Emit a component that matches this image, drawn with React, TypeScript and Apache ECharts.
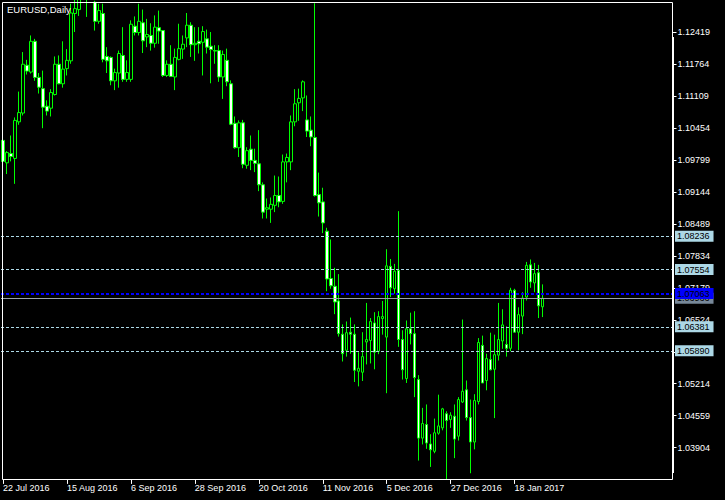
import React, { useEffect, useRef } from 'react';
import * as echarts from 'echarts';

// EURUSD daily bars, first bar on 22 Jul 2016 (weekdays only)
const firstDay = '2016-07-22';

const opens = [
  1.1020, 1.0974, 1.0993, 1.0983, 1.1058, 1.1076, 1.1174, 1.1160, 1.1223, 1.1149,
  1.1126, 1.1090, 1.1086, 1.1114, 1.1176, 1.1136, 1.1167, 1.1183, 1.1280, 1.1288,
  1.1352, 1.1325, 1.1320, 1.1303, 1.1264, 1.1280, 1.1192, 1.1190, 1.1142, 1.1158,
  1.1194, 1.1145, 1.1145, 1.1254, 1.1241, 1.1261, 1.1232, 1.1235, 1.1219, 1.1251,
  1.1245, 1.1153, 1.1176, 1.1150, 1.1186, 1.1207, 1.1230, 1.1256, 1.1216, 1.1223,
  1.1221, 1.1228, 1.1213, 1.1204, 1.1204, 1.1150, 1.1184, 1.1136, 1.1055, 1.1005,
  1.1056, 1.0969, 1.1002, 1.0979, 1.0972, 1.0929, 1.0879, 1.0879, 1.0887, 1.0907,
  1.0895, 1.0976, 1.0976, 1.1058, 1.1097, 1.1107, 1.1062, 1.1041, 1.1026, 1.0909,
  1.0894, 1.0834, 1.0737, 1.0721, 1.0691, 1.0623, 1.0590, 1.0627, 1.0623, 1.0547,
  1.0545, 1.0607, 1.0610, 1.0646, 1.0588, 1.0655, 1.0617, 1.0762, 1.0716, 1.0754,
  1.0612, 1.0532, 1.0634, 1.0624, 1.0530, 1.0410, 1.0438, 1.0398, 1.0383, 1.0420,
  1.0431, 1.0460, 1.0448, 1.0455, 1.0414, 1.0484, 1.0509, 1.0452, 1.0402, 1.0485,
  1.0600, 1.0528, 1.0571, 1.0551, 1.0580, 1.0609, 1.0602, 1.0594, 1.0713, 1.0627,
  1.0660, 1.0699, 1.0765, 1.0728, 1.0749, 1.0679,
];

const highs = [
  1.1025, 1.0998, 1.1030, 1.1067, 1.1120, 1.1201, 1.1185, 1.1235, 1.1228, 1.1158,
  1.1163, 1.1102, 1.1125, 1.1192, 1.1194, 1.1223, 1.1207, 1.1300, 1.1315, 1.1366,
  1.1368, 1.1340, 1.1342, 1.1306, 1.1300, 1.1300, 1.1211, 1.1192, 1.1167, 1.1204,
  1.1252, 1.1184, 1.1266, 1.1274, 1.1300, 1.1288, 1.1269, 1.1260, 1.1276, 1.1286,
  1.1245, 1.1184, 1.1215, 1.1208, 1.1259, 1.1235, 1.1281, 1.1262, 1.1252, 1.1252,
  1.1254, 1.1247, 1.1242, 1.1215, 1.1215, 1.1204, 1.1208, 1.1143, 1.1069, 1.1061,
  1.1062, 1.1006, 1.1030, 1.1003, 1.1041, 1.0934, 1.0901, 1.0903, 1.0948, 1.0946,
  1.0991, 1.0993, 1.1071, 1.1125, 1.1126, 1.1143, 1.1112, 1.1069, 1.1301, 1.0954,
  1.0923, 1.0841, 1.0817, 1.0759, 1.0746, 1.0643, 1.0649, 1.0657, 1.0643, 1.0586,
  1.0627, 1.0687, 1.0656, 1.0668, 1.0670, 1.0691, 1.0797, 1.0777, 1.0767, 1.0875,
  1.0631, 1.0651, 1.0667, 1.0670, 1.0539, 1.0472, 1.0479, 1.0418, 1.0450, 1.0499,
  1.0472, 1.0465, 1.0463, 1.0479, 1.0494, 1.0653, 1.0528, 1.0489, 1.0500, 1.0615,
  1.0620, 1.0583, 1.0626, 1.0622, 1.0687, 1.0674, 1.0639, 1.0718, 1.0716, 1.0678,
  1.0709, 1.0771, 1.0776, 1.0769, 1.0765, 1.0725,
];

const lows = [
  1.0974, 1.0951, 1.0977, 1.0931, 1.1052, 1.1071, 1.1155, 1.1157, 1.1142, 1.1116,
  1.1045, 1.1071, 1.1069, 1.1112, 1.1135, 1.1128, 1.1153, 1.1177, 1.1242, 1.1275,
  1.1310, 1.1273, 1.1304, 1.1245, 1.1259, 1.1180, 1.1158, 1.1133, 1.1123, 1.1128,
  1.1140, 1.1140, 1.1140, 1.1235, 1.1235, 1.1199, 1.1211, 1.1204, 1.1210, 1.1218,
  1.1150, 1.1150, 1.1150, 1.1123, 1.1184, 1.1187, 1.1211, 1.1191, 1.1183, 1.1198,
  1.1153, 1.1198, 1.1137, 1.1177, 1.1140, 1.1105, 1.1131, 1.1051, 1.1003, 1.0986,
  1.0963, 1.0962, 1.0959, 1.0955, 1.0916, 1.0860, 1.0860, 1.0851, 1.0873, 1.0883,
  1.0890, 1.0934, 1.0959, 1.1049, 1.1060, 1.1080, 1.1027, 1.1008, 1.0905, 1.0864,
  1.0830, 1.0711, 1.0716, 1.0664, 1.0618, 1.0567, 1.0577, 1.0583, 1.0525, 1.0516,
  1.0527, 1.0561, 1.0563, 1.0551, 1.0582, 1.0622, 1.0502, 1.0699, 1.0706, 1.0597,
  1.0530, 1.0523, 1.0602, 1.0494, 1.0364, 1.0397, 1.0388, 1.0351, 1.0379, 1.0417,
  1.0426, 1.0326, 1.0431, 1.0369, 1.0405, 1.0482, 1.0446, 1.0338, 1.0387, 1.0479,
  1.0523, 1.0508, 1.0549, 1.0451, 1.0569, 1.0593, 1.0577, 1.0588, 1.0627, 1.0590,
  1.0623, 1.0692, 1.0718, 1.0709, 1.0656, 1.0658,
];

const closes = [
  1.0977, 1.0995, 1.0987, 1.1061, 1.1077, 1.1176, 1.1162, 1.1223, 1.1149, 1.1129,
  1.1088, 1.1080, 1.1118, 1.1176, 1.1136, 1.1166, 1.1184, 1.1281, 1.1290, 1.1352,
  1.1325, 1.1320, 1.1305, 1.1264, 1.1286, 1.1186, 1.1183, 1.1142, 1.1159, 1.1198,
  1.1145, 1.1159, 1.1258, 1.1241, 1.1264, 1.1224, 1.1237, 1.1219, 1.1252, 1.1244,
  1.1153, 1.1176, 1.1151, 1.1190, 1.1208, 1.1217, 1.1256, 1.1216, 1.1219, 1.1218,
  1.1243, 1.1211, 1.1206, 1.1203, 1.1150, 1.1196, 1.1140, 1.1053, 1.1005, 1.1056,
  1.0971, 1.0999, 1.0979, 1.0973, 1.0929, 1.0873, 1.0882, 1.0889, 1.0907, 1.0894,
  1.0976, 1.0985, 1.1058, 1.1095, 1.1106, 1.1140, 1.1039, 1.1027, 1.0907, 1.0892,
  1.0851, 1.0736, 1.0722, 1.0689, 1.0624, 1.0583, 1.0626, 1.0623, 1.0549, 1.0553,
  1.0577, 1.0612, 1.0649, 1.0586, 1.0659, 1.0659, 1.0763, 1.0718, 1.0752, 1.0612,
  1.0550, 1.0634, 1.0624, 1.0534, 1.0410, 1.0440, 1.0400, 1.0386, 1.0421, 1.0435,
  1.0470, 1.0446, 1.0457, 1.0408, 1.0489, 1.0506, 1.0452, 1.0402, 1.0487, 1.0606,
  1.0523, 1.0573, 1.0550, 1.0581, 1.0612, 1.0642, 1.0594, 1.0713, 1.0627, 1.0663,
  1.0697, 1.0764, 1.0730, 1.0747, 1.0681, 1.06966,
];

// Price scale labels on the right-hand axis
const priceTicks = [
  1.03904, 1.04559, 1.05214, 1.05869, 1.06524, 1.07179, 1.07834,
  1.08489, 1.09144, 1.09799, 1.10454, 1.11109, 1.11764, 1.12419,
];

// Horizontal support / resistance levels (dashed light blue) and the pivot (blue)
const levelLines = [1.08236, 1.07554, 1.06381, 1.05890];
const pivotLine = 1.07063;

// Total bar slots on the time axis, including the empty space to the right
const slotCount = 168;
const dateLabelStep = 16;

const MONTHS = ['Jan', 'Feb', 'Mar', 'Apr', 'May', 'Jun', 'Jul', 'Aug', 'Sep', 'Oct', 'Nov', 'Dec'];

function weekdays(start: string, count: number): string[] {
  const d = new Date(start + 'T00:00:00Z');
  const out: string[] = [];
  while (out.length < count) {
    const wd = d.getUTCDay();
    if (wd !== 0 && wd !== 6) {
      out.push(`${d.getUTCDate()} ${MONTHS[d.getUTCMonth()]} ${d.getUTCFullYear()}`);
    }
    d.setUTCDate(d.getUTCDate() + 1);
  }
  return out;
}

const FONT = "'Liberation Sans', Arial, sans-serif";

export default function App() {
  const ref = useRef<HTMLDivElement>(null);

  useEffect(() => {
    if (!ref.current) return;
    const chart = echarts.init(ref.current, null, { renderer: 'svg' });

    const categories = weekdays(firstDay, slotCount);
    const barCount = closes.length;
    const candles = opens.map((o, i) => [o, closes[i], lows[i], highs[i]]);
    const bid = closes[barCount - 1];

    const showDate = (index: number) => index % dateLabelStep === 0 && index < barCount;

    const boxLabel = (bg: string) => ({
      show: true,
      position: 'end',
      distance: 2.5,
      formatter: (p: any) => Number(p.value).toFixed(5),
      color: '#000',
      backgroundColor: bg,
      fontFamily: FONT,
      fontSize: 9,
      lineHeight: 10,
      padding: [1, 4, 0, 2],
    });

    const dashed = (color: string) => ({ color, type: [3, 2], width: 1, opacity: 1 });

    chart.setOption({
      animation: false,
      backgroundColor: '#000',
      grid: { left: 0.5, top: 2.9, width: 672, height: 477, containLabel: false },
      xAxis: {
        type: 'category',
        data: categories,
        boundaryGap: true,
        axisLine: { show: false },
        axisTick: {
          show: true,
          alignWithLabel: true,
          interval: (index: number) => showDate(index),
          length: 4,
          lineStyle: { color: '#fff', width: 1 },
        },
        axisLabel: {
          show: true,
          interval: (index: number) => showDate(index),
          align: 'left',
          margin: 4,
          color: '#fff',
          fontFamily: FONT,
          fontSize: 9,
        },
        splitLine: { show: false },
      },
      yAxis: {
        type: 'value',
        position: 'right',
        min: 1.03244,
        max: 1.13017,
        scale: true,
        axisLine: { show: false },
        axisTick: {
          show: true,
          customValues: priceTicks,
          length: 4,
          lineStyle: { color: '#fff', width: 1 },
        },
        axisLabel: {
          show: true,
          customValues: priceTicks,
          formatter: (v: number) => v.toFixed(5),
          margin: 5,
          color: '#fff',
          fontFamily: FONT,
          fontSize: 9,
        },
        splitLine: { show: false },
      },
      series: [
        {
          type: 'candlestick',
          data: candles,
          barWidth: 3,
          clip: true,
          itemStyle: {
            color: '#000000',
            color0: '#ffffff',
            borderColor: '#00ff00',
            borderColor0: '#00ff00',
            borderWidth: 1,
          },
          markLine: {
            silent: true,
            precision: 5,
            symbol: ['none', 'none'],
            animation: false,
            lineStyle: { opacity: 1 },
            data: [
              {
                yAxis: bid,
                lineStyle: { color: '#9aa0a8', type: 'solid', width: 1, opacity: 1 },
                label: boxLabel('#778899'),
              },
              ...levelLines.map((v) => ({
                yAxis: v,
                lineStyle: dashed('#add8e6'),
                label: boxLabel('#add8e6'),
              })),
              {
                yAxis: pivotLine,
                lineStyle: { color: '#0000ff', type: [3, 2], width: 2, opacity: 1 },
                label: boxLabel('#0000ff'),
              },
            ],
          },
        },
      ],
      graphic: [
        {
          type: 'text',
          silent: true,
          z: 100,
          x: 7,
          y: 4,
          style: {
            text: 'EURUSD,Daily',
            fill: '#fff',
            fontSize: 9.5,
            fontFamily: FONT,
            verticalAlign: 'top',
          },
        },
        {
          type: 'rect',
          silent: true,
          z: 100,
          shape: { x: 2.5, y: 2.5, width: 670, height: 477 },
          style: { fill: 'none', stroke: '#fff', lineWidth: 1 },
        },
        {
          type: 'rect',
          silent: true,
          z: 100,
          shape: { x: 672, y: 37, width: 2, height: 436 },
          style: { fill: '#fff' },
        },
      ],
    });

    return () => chart.dispose();
  }, []);

  return (
    <div
      ref={ref}
      style={{ position: 'absolute', left: 0, top: 0, width: 725, height: 500, background: '#000' }}
    />
  );
}
